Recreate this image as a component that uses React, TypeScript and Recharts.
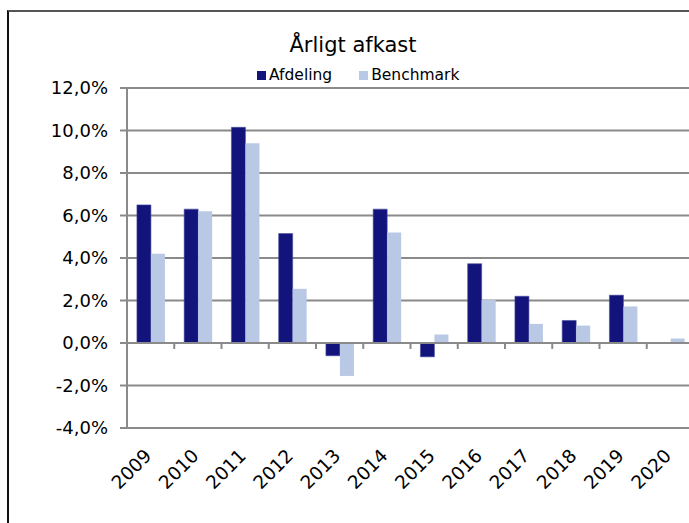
import { Bar, BarChart, CartesianGrid, ReferenceLine, XAxis, YAxis } from "recharts";

const YEARS = ["2009", "2010", "2011", "2012", "2013", "2014", "2015", "2016", "2017", "2018", "2019", "2020"];
const AFDELING = [6.5, 6.3, 10.15, 5.15, -0.6, 6.3, -0.65, 3.73, 2.2, 1.06, 2.25, 0];
const BENCHMARK = [4.2, 6.2, 9.4, 2.55, -1.55, 5.2, 0.4, 2.03, 0.9, 0.82, 1.72, 0.21];
const Y_TICKS = [-4, -2, 0, 2, 4, 6, 8, 10, 12];

const DARK = "#13137c";
const LIGHT = "#b9c8e4";
const GRID = "#8a8a8a";
const FONT = "'DejaVu Sans', Verdana, sans-serif";

const data = YEARS.map((year, i) => ({ year, afdeling: AFDELING[i], benchmark: BENCHMARK[i] }));

const fmt = (v: number) => `${v.toFixed(1).replace(".", ",")}%`;

function YearTick({ x, y, payload }: any) {
  const tx = x + 2;
  const ty = y + 29;
  return (
    <text
      x={tx}
      y={ty}
      textAnchor="end"
      transform={`rotate(-45 ${tx} ${ty})`}
      fill="#000"
      fontSize={18.5}
      fontFamily={FONT}
    >
      {payload.value}
    </text>
  );
}

export default function App() {
  return (
    <div
      style={{
        position: "fixed",
        left: 0,
        top: 0,
        width: 689,
        height: 523,
        overflow: "hidden",
        background: "#fff",
        fontFamily: FONT,
      }}
    >
      <div
        style={{
          position: "absolute",
          left: 7,
          top: 10,
          width: 720,
          height: 600,
          borderLeft: "2px solid #111",
          borderTop: "2px solid #555",
        }}
      />
      <div
        style={{
          position: "absolute",
          left: 253,
          top: 35,
          width: 200,
          textAlign: "center",
          fontSize: 21,
          lineHeight: "21px",
          color: "#000",
        }}
      >
        Årligt afkast
      </div>
      <div
        style={{
          position: "absolute",
          left: 257,
          top: 68,
          display: "flex",
          alignItems: "center",
          fontSize: 15.5,
          lineHeight: "15.5px",
          color: "#000",
        }}
      >
        <span style={{ width: 9, height: 9, background: DARK, marginRight: 3 }} />
        <span style={{ marginRight: 27 }}>Afdeling</span>
        <span style={{ width: 9, height: 9, background: LIGHT, marginRight: 3 }} />
        <span>Benchmark</span>
      </div>
      <div style={{ position: "absolute", left: 0, top: 0 }}>
        <BarChart
          width={720}
          height={523}
          data={data}
          margin={{ top: 88, right: 26, bottom: 35, left: 0 }}
          barCategoryGap="21%"
          barGap={0}
        >
          <CartesianGrid vertical={false} stroke={GRID} strokeWidth={2} />
          <XAxis
            dataKey="year"
            axisLine={false}
            tickLine={false}
            tickSize={0}
            tickMargin={0}
            interval={0}
            height={60}
            tick={<YearTick />}
          />
          <YAxis
            domain={[-4, 12]}
            ticks={Y_TICKS}
            width={127}
            tickSize={7}
            tickMargin={12}
            tickFormatter={fmt}
            axisLine={{ stroke: GRID, strokeWidth: 2 }}
            tickLine={{ stroke: GRID, strokeWidth: 2 }}
            tick={{ fill: "#000", fontSize: 18, fontFamily: FONT }}
            interval={0}
          />
          <ReferenceLine y={0} stroke={GRID} strokeWidth={2} />
          {YEARS.slice(1).map((yr) => (
            <ReferenceLine
              key={yr}
              position="start"
              segment={[
                { x: yr, y: 0 },
                { x: yr, y: -0.28 },
              ]}
              stroke={GRID}
              strokeWidth={2}
              ifOverflow="visible"
            />
          ))}
          <Bar dataKey="afdeling" fill={DARK} stroke="#4a4ea0" strokeWidth={0.6} isAnimationActive={false} />
          <Bar dataKey="benchmark" fill={LIGHT} isAnimationActive={false} />
        </BarChart>
      </div>
    </div>
  );
}
